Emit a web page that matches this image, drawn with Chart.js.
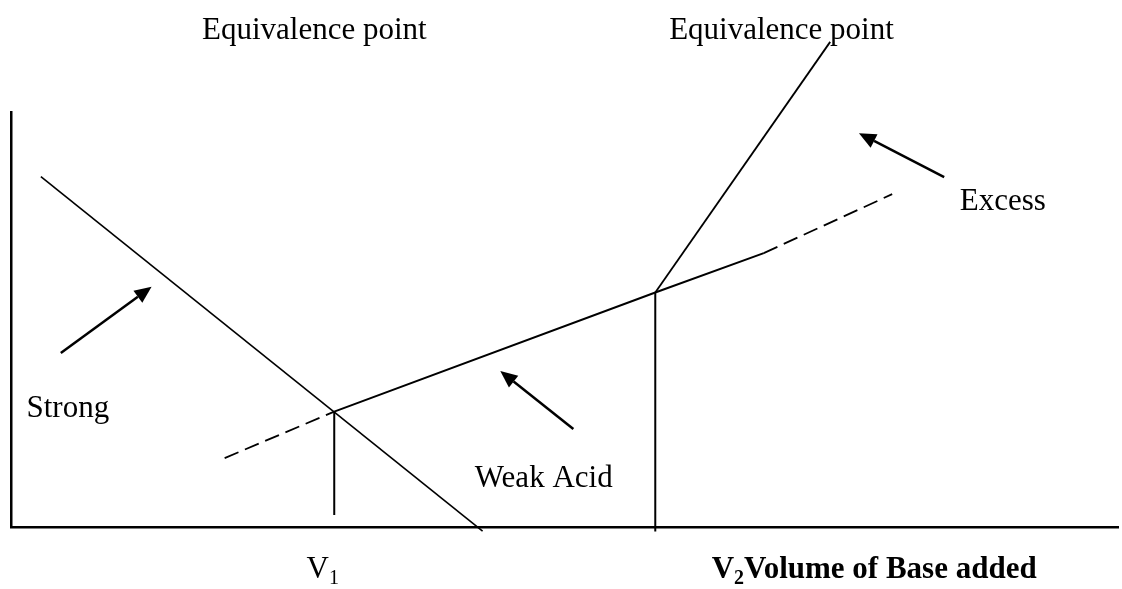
<!DOCTYPE html>
<html>
<head>
<meta charset="utf-8">
<title>Conductometric titration</title>
<script src="https://cdn.jsdelivr.net/npm/chart.js@4.4.0/dist/chart.umd.min.js"></script>
<style>
  html, body { margin: 0; padding: 0; background: #fff; }
  #wrap { width: 1122px; height: 589px; }
</style>
</head>
<body>
<div id="wrap"><canvas id="chart" width="1122" height="589"></canvas></div>
<script>
// volume of base added (x) vs conductance (y), arbitrary units
var strongX = [0.27, 4.26];
var strongY = [8.44, -0.10];

var weakX = [2.92, 5.82, 6.80];
var weakY = [2.78, 5.65, 6.60];

var weakBackX = [1.93, 2.92];
var weakBackY = [1.66, 2.78];

var weakFwdX = [6.80, 7.96];
var weakFwdY = [6.60, 8.02];

var excessX = [5.82, 7.40];
var excessY = [5.65, 11.69];

var v1X = [2.92, 2.92];
var v1Y = [2.78, 0.29];

var v2X = [5.82, 5.82];
var v2Y = [5.65, -0.11];

// arrows: [tailX, tailY, tipX, tipY]
var arrowStrong = [0.45, 4.19, 1.27, 5.79];
var arrowWeak = [5.08, 2.36, 4.42, 3.76];
var arrowExcess = [8.43, 8.43, 7.66, 9.49];

function pts(xs, ys) {
    return xs.map(function(x, i) { return {x: x, y: ys[i]}; });
}

function lineSet(xs, ys, width, dash) {
    return {
        data: pts(xs, ys),
        showLine: true,
        borderColor: '#000',
        borderWidth: width,
        borderDash: dash || [],
        pointRadius: 0,
        fill: false,
        clip: false
    };
}

var labels = [
    {text: 'Equivalence point', x: 2.74, y: 11.76, align: 'center'},
    {text: 'Equivalence point', x: 6.96, y: 11.76, align: 'center'},
    {text: 'Excess', x: 8.57, y: 7.64, align: 'left'},
    {text: 'Strong', x: 0.14, y: 2.65, align: 'left'},
    {text: 'Weak Acid', x: 4.19, y: 0.96, align: 'left'}
];

const serif = '"Liberation Serif", "Times New Roman", serif';

const annotate = {
    id: 'annotate',
    afterDatasetsDraw: function(chart) {
        var ctx = chart.ctx;
        var xs = chart.scales.x, ys = chart.scales.y;
        ctx.save();

        // arrows
        [arrowStrong, arrowWeak, arrowExcess].forEach(function(a) {
            var x1 = xs.getPixelForValue(a[0]), y1 = ys.getPixelForValue(a[1]);
            var x2 = xs.getPixelForValue(a[2]), y2 = ys.getPixelForValue(a[3]);
            var ang = Math.atan2(y2 - y1, x2 - x1);
            var len = 17, half = 7.5;
            var bx = x2 - len * Math.cos(ang), by = y2 - len * Math.sin(ang);
            ctx.strokeStyle = '#000';
            ctx.lineWidth = 2.5;
            ctx.beginPath();
            ctx.moveTo(x1, y1);
            ctx.lineTo(bx, by);
            ctx.stroke();
            ctx.fillStyle = '#000';
            ctx.beginPath();
            ctx.moveTo(x2, y2);
            ctx.lineTo(bx + half * Math.sin(ang), by - half * Math.cos(ang));
            ctx.lineTo(bx - half * Math.sin(ang), by + half * Math.cos(ang));
            ctx.closePath();
            ctx.fill();
        });

        // text labels
        ctx.fillStyle = '#000';
        ctx.textBaseline = 'alphabetic';
        ctx.font = '31px ' + serif;
        labels.forEach(function(l) {
            ctx.textAlign = l.align;
            ctx.fillText(l.text, xs.getPixelForValue(l.x), ys.getPixelForValue(l.y));
        });

        // V1 and V2 axis labels with subscripts
        ctx.textAlign = 'left';
        var base = ys.getPixelForValue(-1.23);
        var px = xs.getPixelForValue(2.67);
        ctx.font = '31px ' + serif;
        ctx.fillText('V', px, base);
        var w = ctx.measureText('V').width;
        ctx.font = '20px ' + serif;
        ctx.fillText('1', px + w, base + 6);

        px = xs.getPixelForValue(6.33);
        ctx.font = 'bold 31px ' + serif;
        ctx.fillText('V', px, base);
        w = ctx.measureText('V').width;
        ctx.font = 'bold 20px ' + serif;
        ctx.fillText('2', px + w, base + 6);
        var w2 = ctx.measureText('2').width;
        ctx.font = 'bold 31px ' + serif;
        ctx.fillText('Volume of Base added', px + w + w2, base);

        ctx.restore();
    }
};

new Chart(document.getElementById('chart'), {
    type: 'scatter',
    data: {
        datasets: [
            lineSet(strongX, strongY, 1.6),
            lineSet(weakX, weakY, 2),
            lineSet(weakBackX, weakBackY, 1.8, [15, 7]),
            lineSet(weakFwdX, weakFwdY, 1.8, [15, 7]),
            lineSet(excessX, excessY, 1.8),
            lineSet(v1X, v1Y, 2),
            lineSet(v2X, v2Y, 2)
        ]
    },
    options: {
        responsive: false,
        animation: false,
        layout: {padding: {left: 11, top: 112, right: 4, bottom: 62}},
        plugins: {legend: {display: false}, tooltip: {enabled: false}},
        scales: {
            x: {
                type: 'linear', min: 0, max: 10,
                grid: {display: false, drawTicks: false},
                ticks: {display: false},
                border: {display: true, color: '#000', width: 2.5}
            },
            y: {
                type: 'linear', min: 0, max: 10,
                grid: {display: false, drawTicks: false},
                ticks: {display: false},
                border: {display: true, color: '#000', width: 2.5}
            }
        }
    },
    plugins: [annotate]
});
</script>
</body>
</html>
